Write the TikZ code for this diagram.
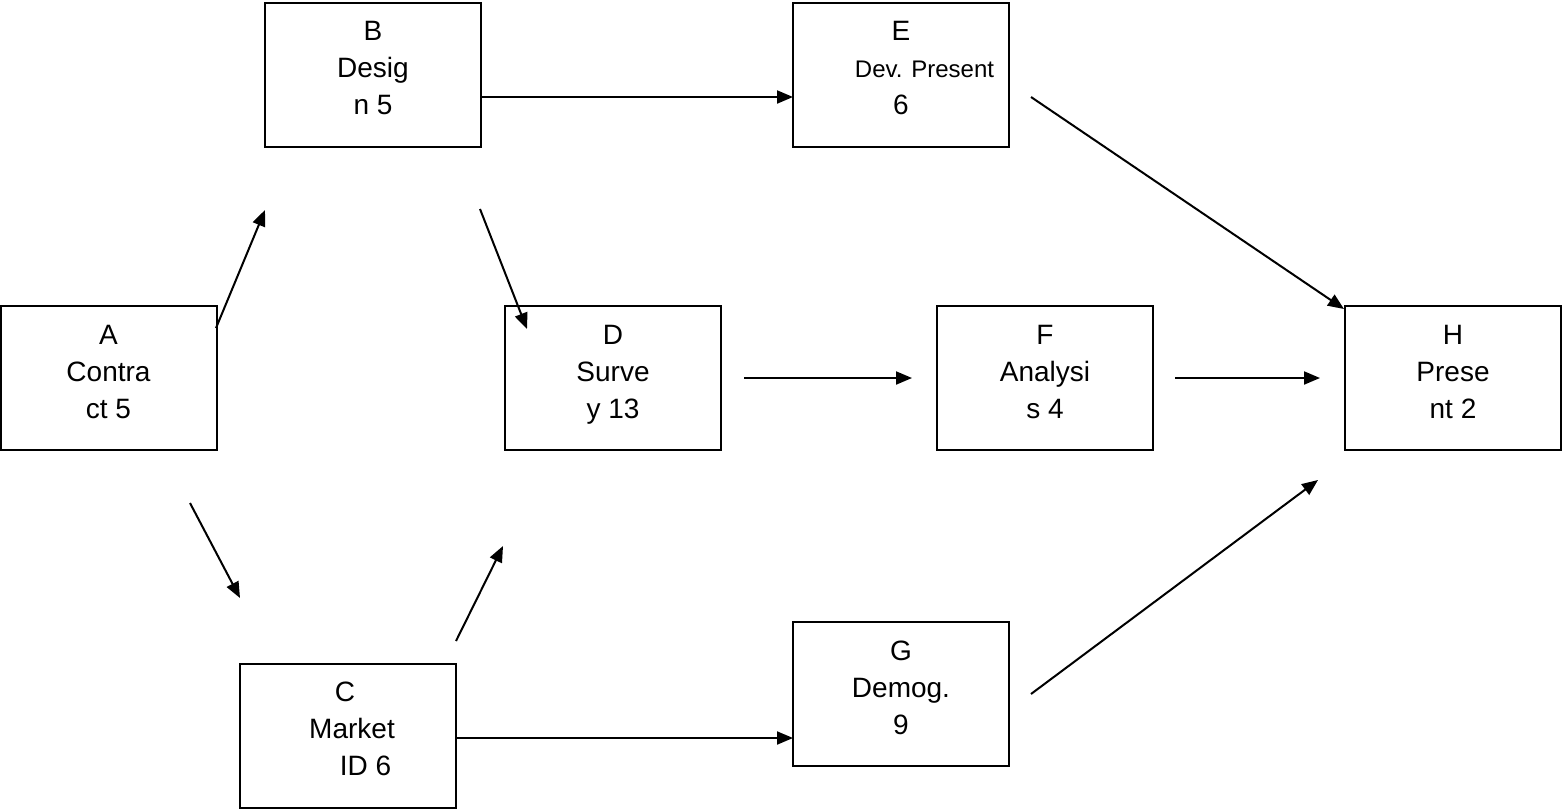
\documentclass[tikz,border=0pt]{standalone}
\usepackage{fontspec}
\setmainfont{Liberation Sans}
\usetikzlibrary{arrows.meta}
% fixed first-line height and last-line depth so every box sets its lines alike
\newcommand{\toprow}{\rule{0pt}{11pt}}
\newcommand{\botrow}{\rule[-8pt]{0pt}{8pt}}
\newcommand{\shifted}[2]{\makebox[0pt]{\hspace*{#1}#2}}
\begin{document}
\begin{tikzpicture}[x=0.5pt,y=-0.5pt,
  task/.style={draw, line width=1pt, minimum width=108pt, minimum height=72pt,
    inner sep=0pt, align=center, font=\fontsize{14}{18.5}\selectfont},
  link/.style={line width=1pt, -{Triangle[length=8pt,width=6.5pt]}}]
\useasboundingbox (0,0) rectangle (1562,809);

% activity boxes
\node[task] (A) at (108.5,378) {\toprow A\\Contra\\ct 5\botrow};
\node[task] (B) at (373,74.5)  {\toprow B\\Desig\\n 5\botrow};
\node[task] (C) at (348,735.5) {\toprow\shifted{-3pt}{C}\\\shifted{4pt}{Market}\\\shifted{17.5pt}{ID 6}\botrow};
\node[task] (D) at (613,378)   {\toprow D\\Surve\\y 13\botrow};
\node[task] (E) at (901,74.5)  {\toprow E\\\shifted{23.5pt}{\fontsize{12}{18.5}\selectfont Dev. Present}\\6\botrow};
\node[task] (F) at (1045,378)  {\toprow F\\Analysi\\s 4\botrow};
\node[task] (G) at (901,694)   {\toprow G\\Demog.\\9\botrow};
\node[task] (H) at (1453,378)  {\toprow H\\Prese\\nt 2\botrow};

% loose end points of the precedence arrows
\coordinate (ab1) at (216,328);  \coordinate (ab2) at (265,210);
\coordinate (bd1) at (480,209);  \coordinate (bd2) at (527,329);
\coordinate (be1) at (481,97);   \coordinate (be2) at (793,97);
\coordinate (eh1) at (1031,97);  \coordinate (eh2) at (1344,309);
\coordinate (df1) at (744,378);  \coordinate (df2) at (912,378);
\coordinate (fh1) at (1175,378); \coordinate (fh2) at (1320,378);
\coordinate (ac1) at (190,503);  \coordinate (ac2) at (240,598);
\coordinate (cd1) at (456,641);  \coordinate (cd2) at (503,546);
\coordinate (cg1) at (456,738);  \coordinate (cg2) at (793,738);
\coordinate (gh1) at (1031,694); \coordinate (gh2) at (1318,480);

\draw[link] (ab1) -- (ab2);
\draw[link] (bd1) -- (bd2);
\draw[link] (be1) -- (be2);
\draw[link] (eh1) -- (eh2);
\draw[link] (df1) -- (df2);
\draw[link] (fh1) -- (fh2);
\draw[link] (ac1) -- (ac2);
\draw[link] (cd1) -- (cd2);
\draw[link] (cg1) -- (cg2);
\draw[link] (gh1) -- (gh2);
\end{tikzpicture}
\end{document}
